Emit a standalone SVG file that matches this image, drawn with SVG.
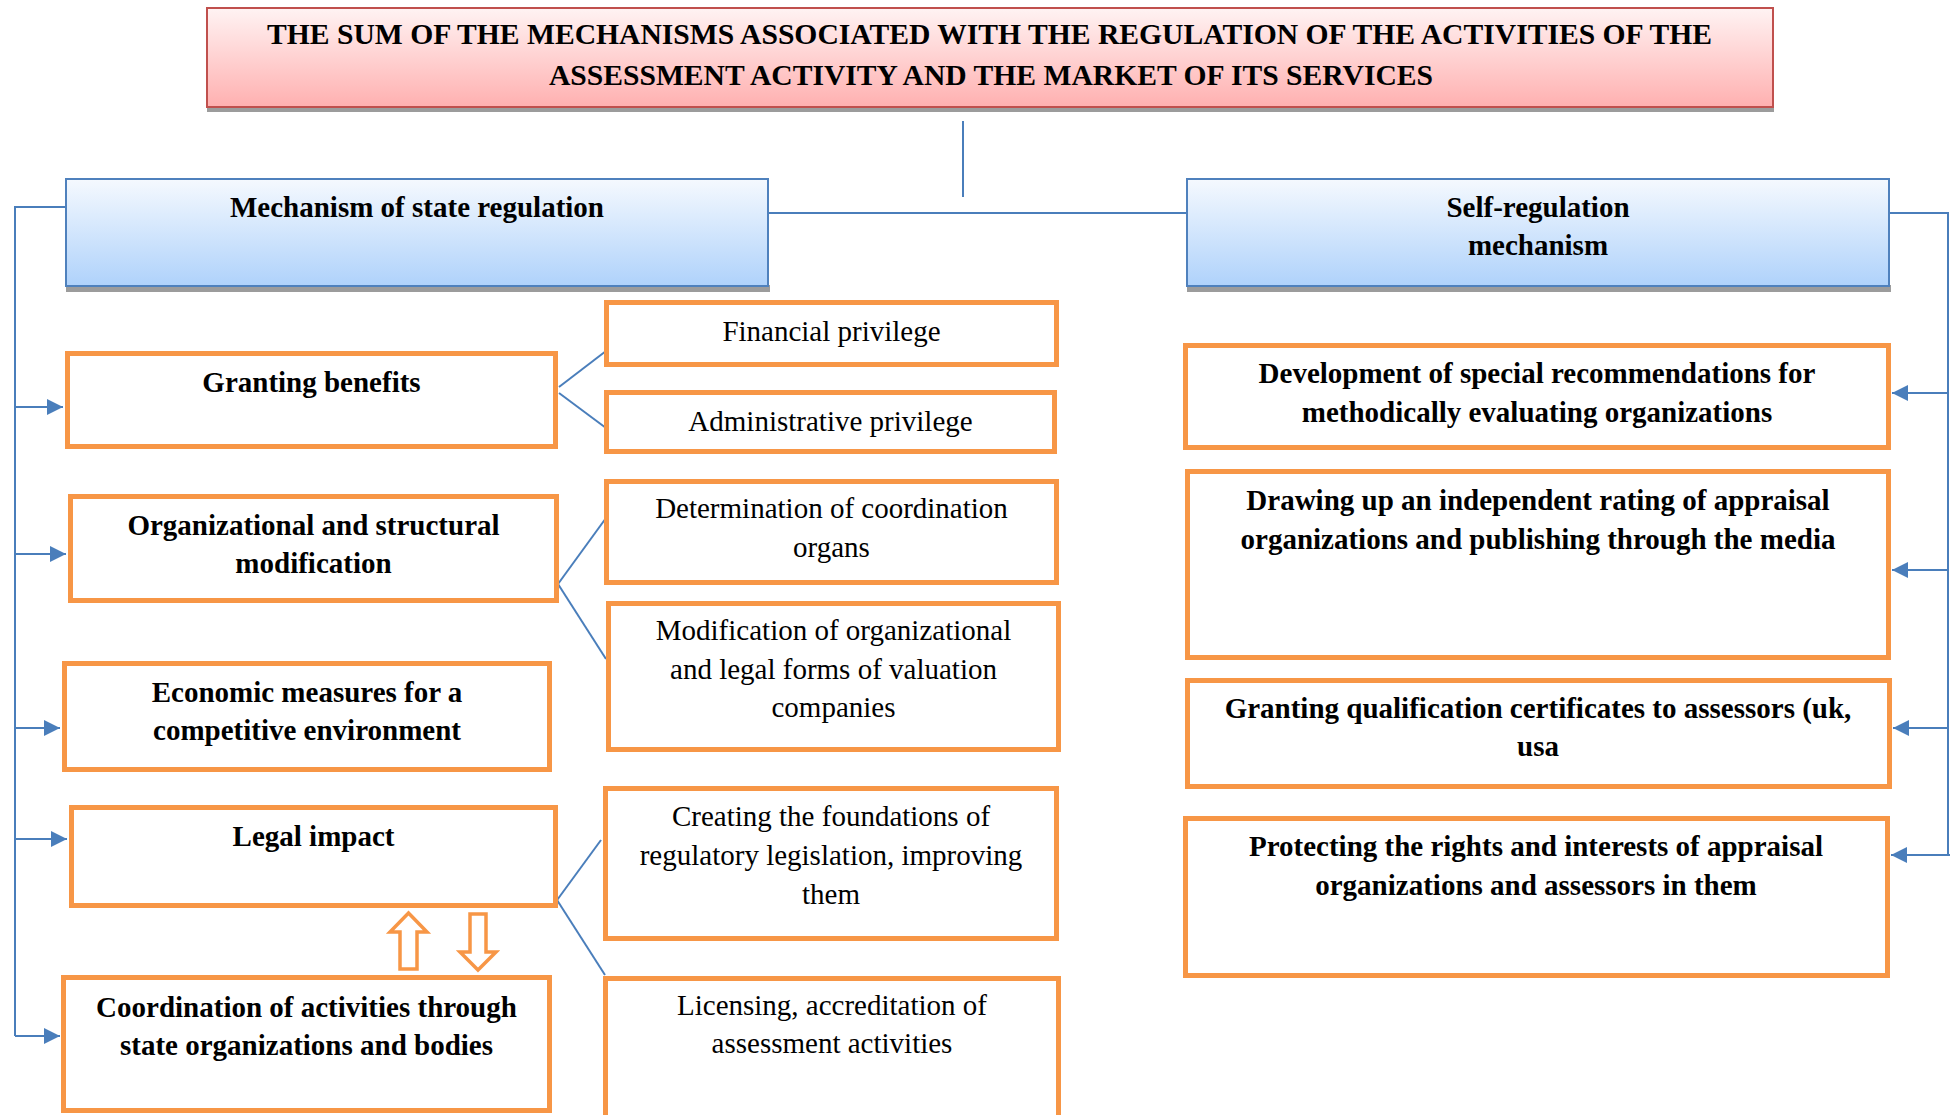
<svg xmlns="http://www.w3.org/2000/svg" width="1957" height="1115" viewBox="0 0 1957 1115">
  <defs>
    <linearGradient id="gradTitle" x1="0" y1="0" x2="0" y2="1">
      <stop offset="0" stop-color="#fff3f3"/>
      <stop offset="1" stop-color="#ffb0b0"/>
    </linearGradient>
    <linearGradient id="gradHead" x1="0" y1="0" x2="0" y2="1">
      <stop offset="0" stop-color="#f5f9fe"/>
      <stop offset="1" stop-color="#afd2fb"/>
    </linearGradient>
    <marker id="arrow" viewBox="0 0 10 10" refX="10" refY="5" markerWidth="16" markerHeight="16" markerUnits="userSpaceOnUse" orient="auto">
      <path d="M0,0 L10,5 L0,10 Z" fill="#4a7ebb"/>
    </marker>
    <style>
      text { font-family: "Liberation Serif", "Times New Roman", serif; font-size: 29px; fill: #000; text-anchor: middle; }
      .b { font-weight: bold; }
      .box { fill: #fff; stroke: #f79646; stroke-width: 5; }
      .head { fill: url(#gradHead); stroke: #4f81bd; stroke-width: 2; }
      .shadow { fill: #9c9c9c; }
      .conn { fill: none; stroke: #4a7ebb; stroke-width: 2; }
      .hollow { fill: #fff; stroke: #f79646; stroke-width: 3.5; stroke-linejoin: miter; }
    </style>
  </defs>

  <rect width="1957" height="1115" fill="#fff"/>

  <!-- title -->
  <g id="title">
    <rect class="shadow" x="207" y="104" width="1567" height="8"/>
    <rect x="207" y="8" width="1566" height="99" fill="url(#gradTitle)" stroke="#c0504d" stroke-width="2"/>
    <text class="b" x="989.5" y="44" textLength="1445" lengthAdjust="spacingAndGlyphs">THE SUM OF THE MECHANISMS ASSOCIATED WITH THE REGULATION OF THE ACTIVITIES OF THE</text>
    <text class="b" x="991" y="85" textLength="884" lengthAdjust="spacingAndGlyphs">ASSESSMENT ACTIVITY AND THE MARKET OF ITS SERVICES</text>
  </g>

  <!-- connectors -->
  <g id="connectors">
    <line class="conn" x1="963" y1="121" x2="963" y2="197"/>
    <line class="conn" x1="769" y1="213" x2="1186" y2="213"/>

    <!-- state regulation bracket -->
    <polyline class="conn" points="65,207 15,207 15,1036"/>
    <line class="conn" x1="15" y1="407" x2="63" y2="407" marker-end="url(#arrow)"/>
    <line class="conn" x1="15" y1="554" x2="66" y2="554" marker-end="url(#arrow)"/>
    <line class="conn" x1="15" y1="728" x2="60" y2="728" marker-end="url(#arrow)"/>
    <line class="conn" x1="15" y1="839" x2="67" y2="839" marker-end="url(#arrow)"/>
    <line class="conn" x1="15" y1="1036" x2="60" y2="1036" marker-end="url(#arrow)"/>

    <!-- self-regulation bracket -->
    <polyline class="conn" points="1890,213 1948,213 1948,855"/>
    <line class="conn" x1="1948" y1="393" x2="1892" y2="393" marker-end="url(#arrow)"/>
    <line class="conn" x1="1948" y1="570" x2="1892" y2="570" marker-end="url(#arrow)"/>
    <line class="conn" x1="1948" y1="728" x2="1893" y2="728" marker-end="url(#arrow)"/>
    <line class="conn" x1="1950" y1="855" x2="1891" y2="855" marker-end="url(#arrow)"/>

    <!-- branches to sub-measures -->
    <line class="conn" x1="559" y1="387" x2="606" y2="351"/>
    <line class="conn" x1="559" y1="393" x2="606" y2="428"/>
    <line class="conn" x1="558" y1="584" x2="606" y2="518"/>
    <line class="conn" x1="558" y1="584" x2="606" y2="659"/>
    <line class="conn" x1="552" y1="907" x2="601" y2="840"/>
    <line class="conn" x1="557" y1="900" x2="605" y2="975"/>
  </g>

  <!-- header: state regulation -->
  <g id="state-regulation">
    <rect class="shadow" x="66" y="285" width="704" height="7"/>
    <rect class="head" x="66" y="179" width="702" height="107"/>
    <text class="b" x="417" y="217">Mechanism of state regulation</text>
  </g>

  <!-- header: self-regulation -->
  <g id="self-regulation">
    <rect class="shadow" x="1187" y="285" width="704" height="7"/>
    <rect class="head" x="1187" y="179" width="702" height="107"/>
    <text class="b" x="1538" y="217">Self-regulation</text>
    <text class="b" x="1538" y="255">mechanism</text>
  </g>

  <!-- state regulation measures -->
  <g id="granting-benefits">
    <rect class="box" x="67.5" y="353.5" width="488" height="93"/>
    <text class="b" x="311.5" y="392">Granting benefits</text>
  </g>
  <g id="organizational-modification">
    <rect class="box" x="70.5" y="496.5" width="486" height="104"/>
    <text class="b" x="313.5" y="535">Organizational and structural</text>
    <text class="b" x="313.5" y="573">modification</text>
  </g>
  <g id="economic-measures">
    <rect class="box" x="64.5" y="663.5" width="485" height="106"/>
    <text class="b" x="307" y="702">Economic measures for a</text>
    <text class="b" x="307" y="740">competitive environment</text>
  </g>
  <g id="legal-impact">
    <rect class="box" x="71.5" y="807.5" width="484" height="98"/>
    <text class="b" x="313.5" y="846">Legal impact</text>
  </g>
  <g id="coordination">
    <rect class="box" x="63.5" y="977.5" width="486" height="133"/>
    <text class="b" x="306.5" y="1017">Coordination of activities through</text>
    <text class="b" x="306.5" y="1055">state organizations and bodies</text>
  </g>

  <!-- two-way link between legal impact and coordination -->
  <g id="two-way-link">
    <path class="hollow" d="M408.5,913 L427,932 L417,932 L417,969 L400,969 L400,932 L390,932 Z"/>
    <path class="hollow" d="M470,914 L486,914 L486,952 L496,952 L478,970 L460,952 L470,952 Z"/>
  </g>

  <!-- sub-measures -->
  <g id="financial-privilege">
    <rect class="box" x="606.5" y="302.5" width="450" height="62"/>
    <text x="831.5" y="341">Financial privilege</text>
  </g>
  <g id="administrative-privilege">
    <rect class="box" x="606.5" y="392.5" width="448" height="59"/>
    <text x="830.5" y="431">Administrative privilege</text>
  </g>
  <g id="coordination-organs">
    <rect class="box" x="606.5" y="481.5" width="450" height="101"/>
    <text x="831.5" y="518">Determination of coordination</text>
    <text x="831.5" y="557">organs</text>
  </g>
  <g id="legal-forms">
    <rect class="box" x="608.5" y="603.5" width="450" height="146"/>
    <text x="833.5" y="640">Modification of organizational</text>
    <text x="833.5" y="679">and legal forms of valuation</text>
    <text x="833.5" y="717">companies</text>
  </g>
  <g id="regulatory-legislation">
    <rect class="box" x="605.5" y="788.5" width="451" height="150"/>
    <text x="831" y="826">Creating the foundations of</text>
    <text x="831" y="865">regulatory legislation, improving</text>
    <text x="831" y="904">them</text>
  </g>
  <g id="licensing">
    <rect class="box" x="605.5" y="978.5" width="453" height="145"/>
    <text x="832" y="1015">Licensing, accreditation of</text>
    <text x="832" y="1053">assessment activities</text>
  </g>

  <!-- self-regulation measures -->
  <g id="recommendations">
    <rect class="box" x="1185.5" y="345.5" width="703" height="102"/>
    <text class="b" x="1537" y="383">Development of special recommendations for</text>
    <text class="b" x="1537" y="422">methodically evaluating organizations</text>
  </g>
  <g id="independent-rating">
    <rect class="box" x="1187.5" y="471.5" width="701" height="186"/>
    <text class="b" x="1538" y="510">Drawing up an independent rating of appraisal</text>
    <text class="b" x="1538" y="549">organizations and publishing through the media</text>
  </g>
  <g id="qualification-certificates">
    <rect class="box" x="1187.5" y="680.5" width="702" height="106"/>
    <text class="b" x="1538" y="718">Granting qualification certificates to assessors (uk,</text>
    <text class="b" x="1538" y="756">usa</text>
  </g>
  <g id="rights-protection">
    <rect class="box" x="1185.5" y="818.5" width="702" height="157"/>
    <text class="b" x="1536" y="856">Protecting the rights and interests of appraisal</text>
    <text class="b" x="1536" y="895">organizations and assessors in them</text>
  </g>
</svg>
